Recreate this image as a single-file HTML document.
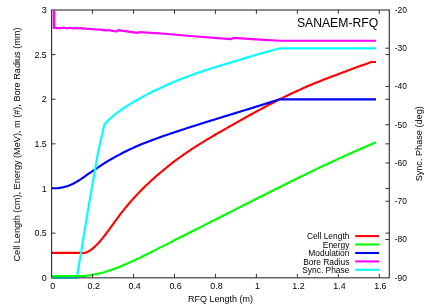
<!DOCTYPE html>
<html><head><meta charset="utf-8">
<style>
html,body{margin:0;padding:0;background:#fff;}
body{width:436px;height:305px;overflow:hidden;font-family:"Liberation Sans",sans-serif;}
svg{display:block;filter:blur(0.35px);}
text{font-family:"Liberation Sans",sans-serif;fill:#000;}
.t{font-size:9px;}
.l{font-size:9.1px;}
.k{font-size:8.6px;}
.c{fill:none;stroke-width:2.15;stroke-linejoin:round;stroke-linecap:butt;}
</style></head><body>
<svg width="436" height="305" viewBox="0 0 436 305">
<rect width="436" height="305" fill="#fff"/>
<path class="c" stroke="#f00" d="M52.00,252.90 L80.00,252.90 L82.00,253.10 L84.00,252.94 L86.00,252.43 L88.00,251.59 L90.00,250.47 L92.00,249.07 L94.00,247.43 L96.00,245.56 L98.00,243.49 L100.00,241.26 L102.00,238.87 L104.00,236.35 L106.00,233.74 L108.00,231.05 L110.00,228.31 L112.00,225.54 L114.00,222.76 L116.00,220.01 L118.00,217.30 L120.00,214.66 L122.00,212.08 L124.00,209.57 L126.00,207.12 L128.00,204.73 L130.00,202.40 L132.00,200.13 L134.00,197.91 L136.00,195.74 L138.00,193.62 L140.00,191.55 L142.00,189.53 L144.00,187.54 L146.00,185.60 L148.00,183.69 L150.00,181.83 L152.00,179.99 L154.00,178.19 L156.00,176.41 L158.00,174.67 L160.00,172.95 L162.00,171.26 L164.00,169.60 L166.00,167.97 L168.00,166.36 L170.00,164.78 L172.00,163.22 L174.00,161.69 L176.00,160.19 L178.00,158.71 L180.00,157.25 L182.00,155.81 L184.00,154.40 L186.00,153.01 L188.00,151.64 L190.00,150.30 L192.00,148.97 L194.00,147.67 L196.00,146.38 L198.00,145.11 L200.00,143.86 L202.00,142.62 L204.00,141.39 L206.00,140.18 L208.00,138.99 L210.00,137.80 L212.00,136.62 L214.00,135.45 L216.00,134.29 L218.00,133.14 L220.00,131.99 L222.00,130.84 L224.00,129.70 L226.00,128.56 L228.00,127.42 L230.00,126.29 L232.00,125.15 L234.00,124.02 L236.00,122.88 L238.00,121.76 L240.00,120.63 L242.00,119.51 L244.00,118.39 L246.00,117.27 L248.00,116.16 L250.00,115.05 L252.00,113.95 L254.00,112.85 L256.00,111.76 L258.00,110.67 L260.00,109.59 L262.00,108.51 L264.00,107.44 L266.00,106.38 L268.00,105.32 L270.00,104.28 L272.00,103.23 L274.00,102.20 L276.00,101.18 L278.00,100.16 L280.00,99.15 L282.00,98.15 L284.00,97.16 L286.00,96.18 L288.00,95.21 L290.00,94.25 L292.00,93.30 L294.00,92.36 L296.00,91.43 L298.00,90.52 L300.00,89.61 L302.00,88.72 L304.00,87.84 L306.00,86.97 L308.00,86.11 L310.00,85.26 L312.00,84.42 L314.00,83.59 L316.00,82.76 L318.00,81.95 L320.00,81.15 L322.00,80.35 L324.00,79.56 L326.00,78.78 L328.00,78.00 L330.00,77.23 L332.00,76.47 L334.00,75.71 L336.00,74.95 L338.00,74.20 L340.00,73.46 L342.00,72.71 L344.00,71.97 L346.00,71.24 L348.00,70.50 L350.00,69.77 L352.00,69.04 L354.00,68.31 L356.00,67.57 L358.00,66.84 L360.00,66.11 L362.00,65.38 L364.00,64.65 L366.00,63.92 L368.00,63.18 L370.00,62.44 L371.20,62.00 L376.00,62.00"/>
<path class="c" stroke="#0f0" d="M52.00,276.05 L80.00,276.05 L82.00,275.98 L84.00,275.86 L86.00,275.69 L88.00,275.47 L90.00,275.20 L92.00,274.89 L94.00,274.54 L96.00,274.14 L98.00,273.70 L100.00,273.23 L102.00,272.71 L104.00,272.17 L106.00,271.58 L108.00,270.96 L110.00,270.31 L112.00,269.63 L114.00,268.92 L116.00,268.18 L118.00,267.42 L120.00,266.63 L122.00,265.81 L124.00,264.97 L126.00,264.12 L128.00,263.24 L130.00,262.34 L132.00,261.43 L134.00,260.50 L136.00,259.56 L138.00,258.60 L140.00,257.63 L142.00,256.66 L144.00,255.67 L146.00,254.68 L148.00,253.68 L150.00,252.68 L152.00,251.67 L154.00,250.66 L156.00,249.65 L158.00,248.64 L160.00,247.64 L162.00,246.63 L164.00,245.62 L166.00,244.61 L168.00,243.60 L170.00,242.59 L172.00,241.58 L174.00,240.56 L176.00,239.55 L178.00,238.54 L180.00,237.53 L182.00,236.52 L184.00,235.51 L186.00,234.49 L188.00,233.48 L190.00,232.47 L192.00,231.45 L194.00,230.44 L196.00,229.43 L198.00,228.41 L200.00,227.40 L202.00,226.39 L204.00,225.37 L206.00,224.36 L208.00,223.34 L210.00,222.33 L212.00,221.31 L214.00,220.30 L216.00,219.28 L218.00,218.27 L220.00,217.25 L222.00,216.24 L224.00,215.22 L226.00,214.21 L228.00,213.19 L230.00,212.17 L232.00,211.16 L234.00,210.14 L236.00,209.13 L238.00,208.11 L240.00,207.09 L242.00,206.08 L244.00,205.06 L246.00,204.05 L248.00,203.04 L250.00,202.02 L252.00,201.01 L254.00,200.00 L256.00,198.99 L258.00,197.98 L260.00,196.97 L262.00,195.96 L264.00,194.95 L266.00,193.94 L268.00,192.94 L270.00,191.93 L272.00,190.93 L274.00,189.93 L276.00,188.93 L278.00,187.93 L280.00,186.94 L282.00,185.94 L284.00,184.95 L286.00,183.96 L288.00,182.97 L290.00,181.98 L292.00,180.99 L294.00,180.01 L296.00,179.03 L298.00,178.05 L300.00,177.07 L302.00,176.10 L304.00,175.13 L306.00,174.16 L308.00,173.19 L310.00,172.22 L312.00,171.26 L314.00,170.30 L316.00,169.35 L318.00,168.39 L320.00,167.44 L322.00,166.49 L324.00,165.55 L326.00,164.61 L328.00,163.67 L330.00,162.74 L332.00,161.80 L334.00,160.88 L336.00,159.95 L338.00,159.03 L340.00,158.11 L342.00,157.20 L344.00,156.29 L346.00,155.38 L348.00,154.48 L350.00,153.58 L352.00,152.69 L354.00,151.80 L356.00,150.91 L358.00,150.03 L360.00,149.16 L362.00,148.28 L364.00,147.41 L366.00,146.55 L368.00,145.69 L370.00,144.84 L372.00,143.99 L374.00,143.14 L376.00,142.30"/>
<path class="c" stroke="#00f" d="M52.00,188.30 L53.50,188.29 L55.00,188.27 L56.50,188.23 L58.00,188.11 L59.50,187.91 L61.00,187.65 L62.50,187.35 L64.00,187.04 L65.50,186.65 L67.00,186.19 L68.50,185.65 L70.00,185.06 L71.50,184.44 L73.00,183.76 L74.50,182.98 L76.00,182.13 L77.50,181.23 L79.00,180.31 L80.50,179.37 L82.00,178.37 L83.50,177.33 L85.00,176.27 L86.50,175.22 L88.00,174.19 L89.50,173.18 L91.00,172.16 L92.50,171.15 L94.00,170.14 L95.50,169.12 L97.00,168.11 L98.50,167.09 L100.00,166.09 L101.50,165.10 L103.00,164.13 L104.50,163.16 L106.00,162.22 L107.50,161.30 L109.00,160.41 L110.50,159.56 L112.00,158.73 L113.50,157.91 L115.00,157.09 L116.00,156.53 L118.00,155.41 L120.00,154.32 L122.00,153.25 L124.00,152.22 L126.00,151.21 L128.00,150.23 L130.00,149.28 L132.00,148.35 L134.00,147.44 L136.00,146.55 L138.00,145.69 L140.00,144.84 L142.00,144.02 L144.00,143.21 L146.00,142.42 L148.00,141.64 L150.00,140.88 L152.00,140.13 L154.00,139.39 L156.00,138.67 L158.00,137.95 L160.00,137.24 L162.00,136.54 L164.00,135.85 L166.00,135.16 L168.00,134.48 L170.00,133.80 L172.00,133.12 L174.00,132.45 L176.00,131.79 L178.00,131.12 L180.00,130.46 L182.00,129.80 L184.00,129.15 L186.00,128.50 L188.00,127.85 L190.00,127.21 L192.00,126.57 L194.00,125.93 L196.00,125.29 L198.00,124.66 L200.00,124.03 L202.00,123.40 L204.00,122.77 L206.00,122.14 L208.00,121.52 L210.00,120.90 L212.00,120.28 L214.00,119.66 L216.00,119.04 L218.00,118.42 L220.00,117.81 L222.00,117.19 L224.00,116.58 L226.00,115.96 L228.00,115.35 L230.00,114.74 L232.00,114.13 L234.00,113.51 L236.00,112.90 L238.00,112.29 L240.00,111.68 L242.00,111.06 L244.00,110.45 L246.00,109.84 L248.00,109.22 L250.00,108.60 L252.00,107.99 L254.00,107.37 L256.00,106.75 L258.00,106.13 L260.00,105.51 L262.00,104.88 L264.00,104.26 L266.00,103.63 L268.00,103.00 L270.00,102.37 L272.00,101.73 L274.00,101.10 L276.00,100.46 L278.00,99.81 L279.60,99.30 L376.00,99.30"/>
<path class="c" stroke="#f0f" d="M53.80,28.00 L55.00,27.54 L56.15,28.17 L57.30,27.89 L58.45,28.14 L59.60,28.36 L60.75,28.01 L61.90,28.00 L63.05,27.67 L64.20,27.84 L65.35,28.03 L66.50,28.18 L67.65,28.28 L68.80,27.99 L69.95,27.78 L71.10,27.96 L72.25,28.38 L73.40,27.94 L74.55,28.11 L75.70,28.42 L76.85,27.88 L78.00,28.24 L79.15,28.45 L80.30,28.07 L81.45,28.34 L82.60,28.61 L83.75,28.29 L84.90,28.58 L86.05,28.78 L87.20,28.82 L88.35,28.81 L89.50,28.78 L90.65,28.99 L91.80,29.03 L92.95,29.16 L94.10,29.21 L95.25,29.47 L96.40,29.53 L97.55,29.45 L98.70,29.63 L99.85,29.62 L101.00,29.80 L102.15,29.90 L103.30,30.12 L104.45,30.18 L105.60,30.33 L106.75,30.52 L107.90,30.11 L109.05,30.26 L110.20,30.31 L111.35,30.66 L112.50,30.81 L113.65,31.03 L114.80,31.30 L115.95,31.50 L116.30,31.50 L118.00,30.10 L137.60,32.90 L139.60,32.10 L165.00,33.80 L190.00,36.00 L230.60,39.15 L233.40,37.90 L260.00,39.60 L279.50,40.70 L376.00,40.70"/>
<path d="M54.0,10.3V29.0" stroke="#f0f" stroke-width="2.6" fill="none"/>
<path class="c" stroke="#0ff" d="M52.00,277.00 L77.00,277.00 L87.50,213.00 L98.10,152.00 L104.40,124.40 L106.40,122.25 L108.40,120.23 L110.40,118.33 L112.40,116.54 L114.40,114.86 L116.40,113.27 L118.40,111.76 L120.40,110.32 L122.40,108.94 L124.40,107.62 L126.40,106.33 L128.40,105.07 L130.40,103.84 L132.40,102.64 L134.40,101.47 L136.40,100.31 L138.40,99.19 L140.40,98.08 L142.40,96.99 L144.40,95.92 L146.40,94.87 L148.40,93.84 L150.40,92.82 L152.40,91.82 L154.40,90.83 L156.40,89.86 L158.40,88.90 L160.40,87.95 L162.40,87.02 L164.40,86.11 L166.40,85.21 L168.40,84.32 L170.40,83.45 L172.40,82.59 L174.40,81.74 L176.40,80.91 L178.40,80.09 L180.40,79.29 L182.40,78.50 L184.40,77.72 L186.40,76.96 L188.40,76.21 L190.40,75.47 L192.40,74.74 L194.40,74.03 L196.40,73.33 L198.40,72.64 L200.40,71.96 L202.40,71.29 L204.40,70.63 L206.40,69.98 L208.40,69.34 L210.40,68.71 L212.40,68.08 L214.40,67.45 L216.40,66.84 L218.40,66.22 L220.40,65.61 L222.40,65.01 L224.40,64.40 L226.40,63.80 L228.40,63.20 L230.40,62.60 L232.40,62.00 L234.40,61.40 L236.40,60.79 L238.40,60.19 L240.40,59.58 L242.40,58.97 L244.40,58.36 L246.40,57.76 L248.40,57.15 L250.40,56.55 L252.40,55.95 L254.40,55.35 L256.40,54.76 L258.40,54.17 L260.40,53.59 L262.40,53.02 L264.40,52.45 L266.40,51.90 L268.40,51.35 L270.40,50.81 L272.40,50.29 L274.40,49.77 L276.40,49.27 L278.40,48.78 L280.00,48.40 L376.00,48.40"/>
<path class="c" stroke="#0f0" d="M52,276.05H77"/>
<g fill="none">
<path d="M51.1,9.95H389.8M51.1,277.75H389.8" stroke="#666" stroke-width="1.4"/>
<path d="M51.6,9.95V277.75M389.3,9.95V277.75" stroke="#2a2a2a" stroke-width="1.1"/>
<g stroke="#333" stroke-width="1">
<path d="M92.56,277.75v-3.9M133.52,277.75v-3.9M174.48,277.75v-3.9M215.44,277.75v-3.9M256.40,277.75v-3.9M297.36,277.75v-3.9M338.32,277.75v-3.9M379.28,277.75v-3.9"/>
<path d="M92.56,9.95v3.9M133.52,9.95v3.9M174.48,9.95v3.9M215.44,9.95v3.9M256.40,9.95v3.9M297.36,9.95v3.9M338.32,9.95v3.9M379.28,9.95v3.9"/>
<path d="M51.60,233.12h3.9M51.60,143.85h3.9M51.60,99.22h3.9M51.60,54.58h3.9"/>
<path d="M389.30,233.12h-3.9M389.30,188.48h-3.9M389.30,143.85h-3.9M389.30,99.22h-3.9M389.30,54.58h-3.9"/>
<path d="M389.30,48.21h-3.9M389.30,86.46h-3.9M389.30,124.72h-3.9M389.30,162.98h-3.9M389.30,201.24h-3.9M389.30,239.49h-3.9"/>
</g></g>
<path d="M52.2,277.95H78" stroke="#00a0a4" stroke-width="1.65" fill="none"/>
<text transform="translate(46.80,280.80) scale(0.966,1)" text-anchor="end" font-size="9.21">0</text><text transform="translate(46.80,236.17) scale(0.966,1)" text-anchor="end" font-size="9.21">0.5</text><text transform="translate(46.80,191.53) scale(0.966,1)" text-anchor="end" font-size="9.21">1</text><text transform="translate(46.80,146.90) scale(0.966,1)" text-anchor="end" font-size="9.21">1.5</text><text transform="translate(46.80,102.27) scale(0.966,1)" text-anchor="end" font-size="9.21">2</text><text transform="translate(46.80,57.63) scale(0.966,1)" text-anchor="end" font-size="9.21">2.5</text><text transform="translate(46.80,13.00) scale(0.966,1)" text-anchor="end" font-size="9.21">3</text>
<text transform="translate(394.80,12.80) scale(0.915,1)" text-anchor="start" font-size="9.23">-20</text><text transform="translate(394.80,51.06) scale(0.915,1)" text-anchor="start" font-size="9.23">-30</text><text transform="translate(394.80,89.31) scale(0.915,1)" text-anchor="start" font-size="9.23">-40</text><text transform="translate(394.80,127.57) scale(0.915,1)" text-anchor="start" font-size="9.23">-50</text><text transform="translate(394.80,165.83) scale(0.915,1)" text-anchor="start" font-size="9.23">-60</text><text transform="translate(394.80,204.09) scale(0.915,1)" text-anchor="start" font-size="9.23">-70</text><text transform="translate(394.80,242.34) scale(0.915,1)" text-anchor="start" font-size="9.23">-80</text><text transform="translate(394.80,280.60) scale(0.915,1)" text-anchor="start" font-size="9.23">-90</text>
<text transform="translate(52.70,289.10) scale(0.966,1)" text-anchor="middle" font-size="9.21">0</text><text transform="translate(93.66,289.10) scale(0.966,1)" text-anchor="middle" font-size="9.21">0.2</text><text transform="translate(134.62,289.10) scale(0.966,1)" text-anchor="middle" font-size="9.21">0.4</text><text transform="translate(175.58,289.10) scale(0.966,1)" text-anchor="middle" font-size="9.21">0.6</text><text transform="translate(216.54,289.10) scale(0.966,1)" text-anchor="middle" font-size="9.21">0.8</text><text transform="translate(257.50,289.10) scale(0.966,1)" text-anchor="middle" font-size="9.21">1</text><text transform="translate(298.46,289.10) scale(0.966,1)" text-anchor="middle" font-size="9.21">1.2</text><text transform="translate(339.42,289.10) scale(0.966,1)" text-anchor="middle" font-size="9.21">1.4</text><text transform="translate(380.38,289.10) scale(0.966,1)" text-anchor="middle" font-size="9.21">1.6</text>
<text transform="translate(220.40,301.50) scale(0.966,1)" text-anchor="middle" font-size="9.32">RFQ Length (m)</text>
<text transform="translate(20.10,144.50) rotate(-90) scale(0.966,1)" text-anchor="middle" font-size="9.47">Cell Length (cm), Energy (MeV), m (#), Bore Radius (mm)</text>
<text transform="translate(422.10,143.80) rotate(-90) scale(0.966,1)" text-anchor="middle" font-size="9.47">Sync. Phase (deg)</text>
<text transform="translate(378.20,27.10) scale(0.966,1)" text-anchor="end" font-size="12.63">SANAEM-RFQ</text>
<text transform="translate(349.40,239.20) scale(0.966,1)" text-anchor="end" font-size="8.70">Cell Length</text><text transform="translate(349.40,247.60) scale(0.966,1)" text-anchor="end" font-size="8.70">Energy</text><text transform="translate(349.40,256.10) scale(0.966,1)" text-anchor="end" font-size="8.70">Modulation</text><text transform="translate(349.40,264.50) scale(0.966,1)" text-anchor="end" font-size="8.70">Bore Radius</text><text transform="translate(349.40,272.90) scale(0.966,1)" text-anchor="end" font-size="8.70">Sync. Phase</text>
<g class="c" style="stroke-width:2.1"><path stroke="#f00" d="M355.2,236.10H379"/><path stroke="#0f0" d="M355.2,244.50H379"/><path stroke="#00f" d="M355.2,253.00H379"/><path stroke="#f0f" d="M355.2,261.40H379"/><path stroke="#0ff" d="M355.2,269.80H379"/></g>
</svg>
</body></html>
